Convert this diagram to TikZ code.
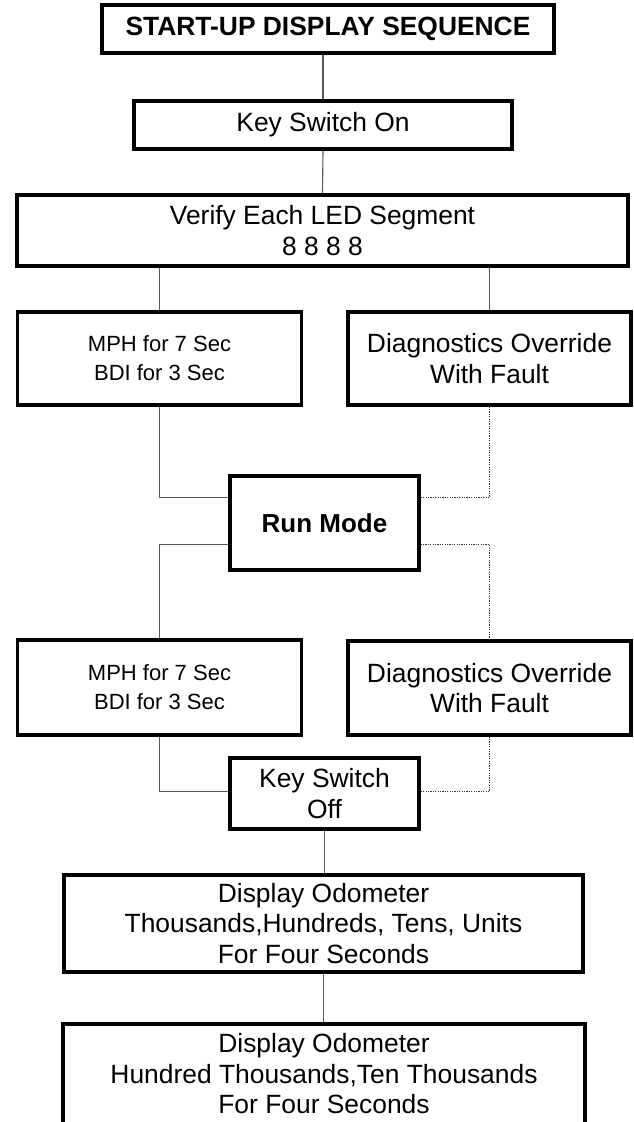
\documentclass[tikz,border=0pt]{standalone}
\usepackage{fontspec}
\setmainfont{Liberation Sans}
\begin{document}
\begin{tikzpicture}[x=1pt,y=-1pt,
  box/.style={draw=black, line width=3.1pt, fill=white, inner sep=0pt, align=center,
    font=\fontsize{26.4}{30.5}\selectfont},
  smallbox/.style={box, font=\fontsize{22}{29}\selectfont},
  titlebox/.style={box, line width=4.4pt, font=\fontsize{26.4}{30}\selectfont\bfseries},
  conn/.style={draw=black!65, line width=1.1pt},
  dconn/.style={draw=black!80, line width=0.9pt, dash pattern=on 1.2pt off 1.2pt}
]
\useasboundingbox (0,0) rectangle (633,1122);
\fill[white] (0,0) rectangle (633,1122);

\node[titlebox, minimum width=452pt, minimum height=48pt] (title) at (328,29) {START-UP DISPLAY SEQUENCE};
\node[box, minimum width=378pt, minimum height=48pt] (ks) at (323,125) {Key Switch On};
\node[box, minimum width=611pt, minimum height=71pt] (verify) at (322.5,230.5) {Verify Each LED Segment\\8 8 8 8};
\node[smallbox, minimum width=284pt, minimum height=93pt] (mph1) at (159.5,358.5) {MPH for 7 Sec\\BDI for 3 Sec};
\node[box, minimum width=283pt, minimum height=93pt] (diag1) at (489.5,358.5) {Diagnostics Override\\With Fault};
\node[box, font=\fontsize{26}{30}\selectfont\bfseries, minimum width=189pt, minimum height=94pt] (run) at (324.5,523) {Run Mode};
\node[smallbox, minimum width=284pt, minimum height=95pt] (mph2) at (159.5,687.5) {MPH for 7 Sec\\BDI for 3 Sec};
\node[box, minimum width=283pt, minimum height=94pt] (diag2) at (489.5,688) {Diagnostics Override\\With Fault};
\node[box, minimum width=189pt, minimum height=71pt] (kso) at (324.5,793.5) {Key Switch\\Off};
\node[box, minimum width=519pt, minimum height=97pt] (disp) at (323.5,923.5) {Display Odometer\\Thousands,Hundreds, Tens, Units\\For Four Seconds};
\node[box, minimum width=522pt, minimum height=100pt] (last) at (324,1074) {Display Odometer\\Hundred Thousands,Ten Thousands\\For Four Seconds};

\draw[conn] (ks.north) -- (ks.north |- title.south);
\draw[conn] (ks.south) -- (verify.north);
\draw[conn] (mph1.north) -- (mph1.north |- verify.south);
\draw[conn] (diag1.north) -- (diag1.north |- verify.south);
\draw[conn] (mph1.south) |- ([yshift=-23pt]run.north west);
\draw[dconn] (diag1.south) |- ([yshift=-23pt]run.north east);
\draw[conn] ([yshift=-70pt]run.north west) -| (mph2.north);
\draw[dconn] ([yshift=-70pt]run.north east) -| (diag2.north);
\draw[conn] (mph2.south) |- ([yshift=-35pt]kso.north west);
\draw[dconn] (diag2.south) |- ([yshift=-35pt]kso.north east);
\draw[conn] (kso.south) -- (kso.south |- disp.north);
\draw[conn] (disp.south) -- (disp.south |- last.north);
\end{tikzpicture}
\end{document}
